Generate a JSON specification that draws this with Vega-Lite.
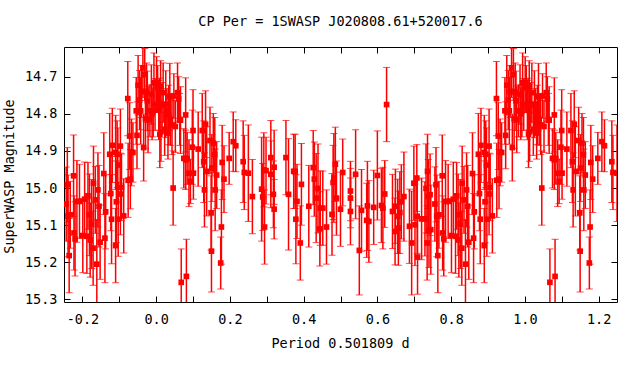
{
"$schema": "https://vega.github.io/schema/vega-lite/v6.json",
"width": 553, "height": 255,
"autosize": {"type": "none"},
"padding": {"left": 64, "top": 47, "right": 23, "bottom": 82},
"background": "white",
"config": {"view": {"stroke": "black", "strokeWidth": 1}, "font": "DejaVu Sans Mono"},
"title": {"text": "CP Per = 1SWASP J020808.61+520017.6", "font": "DejaVu Sans Mono", "fontSize": 13.5, "fontWeight": "normal", "color": "black", "anchor": "middle", "baseline": "alphabetic", "offset": 7},
"data": {"values": [
{"phase":0.001,"mag":14.716,"err":0.07},{"phase":0.004,"mag":14.730,"err":0.06},{"phase":0.007,"mag":14.790,"err":0.08},{"phase":0.009,"mag":14.774,"err":0.07},{"phase":0.010,"mag":14.855,"err":0.09},{"phase":0.012,"mag":14.727,"err":0.07},{"phase":0.013,"mag":14.848,"err":0.08},{"phase":0.016,"mag":14.776,"err":0.06},{"phase":0.019,"mag":14.743,"err":0.08},{"phase":0.023,"mag":14.842,"err":0.07},{"phase":0.026,"mag":14.774,"err":0.09},{"phase":0.029,"mag":14.792,"err":0.06},{"phase":0.032,"mag":14.852,"err":0.07},{"phase":0.034,"mag":14.803,"err":0.08},{"phase":0.037,"mag":14.754,"err":0.09},{"phase":0.039,"mag":14.815,"err":0.07},{"phase":0.043,"mag":14.830,"err":0.08},{"phase":0.046,"mag":15.000,"err":0.10},{"phase":0.048,"mag":14.752,"err":0.06},{"phase":0.052,"mag":14.834,"err":0.07},{"phase":0.058,"mag":14.743,"err":0.08},{"phase":0.061,"mag":14.760,"err":0.06},{"phase":0.064,"mag":14.815,"err":0.07},{"phase":0.066,"mag":14.817,"err":0.09},{"phase":0.068,"mag":15.254,"err":0.09},{"phase":0.075,"mag":14.920,"err":0.08},{"phase":0.080,"mag":14.803,"err":0.10},{"phase":0.080,"mag":14.924,"err":0.08},{"phase":0.082,"mag":15.238,"err":0.10},{"phase":0.084,"mag":14.920,"err":0.07},{"phase":0.089,"mag":14.960,"err":0.09},{"phase":0.093,"mag":14.982,"err":0.06},{"phase":0.098,"mag":14.890,"err":0.10},{"phase":0.100,"mag":14.845,"err":0.11},{"phase":0.101,"mag":14.960,"err":0.07},{"phase":0.114,"mag":14.895,"err":0.10},{"phase":0.125,"mag":14.845,"err":0.10},{"phase":0.129,"mag":14.929,"err":0.11},{"phase":0.131,"mag":15.005,"err":0.10},{"phase":0.134,"mag":14.828,"err":0.09},{"phase":0.137,"mag":14.955,"err":0.12},{"phase":0.146,"mag":14.872,"err":0.09},{"phase":0.149,"mag":15.067,"err":0.10},{"phase":0.150,"mag":15.170,"err":0.11},{"phase":0.151,"mag":14.946,"err":0.09},{"phase":0.155,"mag":14.879,"err":0.08},{"phase":0.159,"mag":14.910,"err":0.10},{"phase":0.160,"mag":15.005,"err":0.11},{"phase":0.164,"mag":14.965,"err":0.09},{"phase":0.175,"mag":15.202,"err":0.07},{"phase":0.177,"mag":15.105,"err":0.10},{"phase":0.179,"mag":14.931,"err":0.10},{"phase":0.184,"mag":14.976,"err":0.09},{"phase":0.198,"mag":14.920,"err":0.07},{"phase":0.209,"mag":14.875,"err":0.08},{"phase":0.216,"mag":14.886,"err":0.07},{"phase":0.236,"mag":14.929,"err":0.11},{"phase":0.239,"mag":14.958,"err":0.10},{"phase":0.250,"mag":14.960,"err":0.13},
{"phase":0.261,"mag":15.023,"err":0.10},{"phase":0.286,"mag":15.003,"err":0.14},{"phase":0.289,"mag":15.024,"err":0.09},{"phase":0.292,"mag":14.951,"err":0.10},{"phase":0.294,"mag":15.105,"err":0.10},{"phase":0.298,"mag":14.953,"err":0.09},{"phase":0.311,"mag":14.918,"err":0.10},{"phase":0.311,"mag":14.963,"err":0.09},{"phase":0.318,"mag":15.017,"err":0.09},{"phase":0.320,"mag":15.057,"err":0.08},{"phase":0.320,"mag":14.944,"err":0.10},{"phase":0.352,"mag":14.918,"err":0.10},{"phase":0.359,"mag":15.017,"err":0.15},{"phase":0.373,"mag":14.955,"err":0.10},{"phase":0.377,"mag":14.955,"err":0.10},{"phase":0.379,"mag":15.084,"err":0.12},{"phase":0.382,"mag":15.036,"err":0.10},{"phase":0.391,"mag":15.148,"err":0.10},{"phase":0.394,"mag":14.990,"err":0.11},{"phase":0.414,"mag":15.049,"err":0.11},{"phase":0.426,"mag":14.945,"err":0.10},{"phase":0.429,"mag":14.976,"err":0.10},{"phase":0.434,"mag":15.027,"err":0.12},{"phase":0.439,"mag":15.001,"err":0.12},{"phase":0.444,"mag":15.110,"err":0.10},{"phase":0.445,"mag":15.054,"err":0.10},{"phase":0.452,"mag":15.054,"err":0.10},{"phase":0.462,"mag":15.105,"err":0.10},{"phase":0.477,"mag":15.071,"err":0.11},{"phase":0.480,"mag":14.985,"err":0.10},{"phase":0.482,"mag":14.973,"err":0.12},{"phase":0.486,"mag":14.936,"err":0.10},{"phase":0.489,"mag":15.027,"err":0.10},{"phase":0.500,"mag":15.057,"err":0.10},{"phase":0.506,"mag":14.958,"err":0.09},{"phase":0.527,"mag":15.008,"err":0.08},{"phase":0.527,"mag":15.027,"err":0.08},{"phase":0.527,"mag":15.063,"err":0.09},{"phase":0.541,"mag":14.963,"err":0.12},{"phase":0.551,"mag":15.168,"err":0.12},{"phase":0.557,"mag":15.060,"err":0.11},{"phase":0.571,"mag":15.087,"err":0.10},{"phase":0.573,"mag":15.048,"err":0.12},{"phase":0.577,"mag":15.090,"err":0.11},{"phase":0.590,"mag":15.052,"err":0.10},{"phase":0.600,"mag":14.966,"err":0.12},{"phase":0.611,"mag":15.047,"err":0.10},{"phase":0.615,"mag":15.054,"err":0.11},{"phase":0.620,"mag":15.016,"err":0.09},{"phase":0.625,"mag":14.775,"err":0.10},{"phase":0.641,"mag":15.063,"err":0.10},{"phase":0.648,"mag":15.117,"err":0.09},{"phase":0.649,"mag":15.049,"err":0.10},{"phase":0.655,"mag":15.076,"err":0.10},{"phase":0.657,"mag":15.108,"err":0.10},{"phase":0.661,"mag":15.066,"err":0.11},{"phase":0.665,"mag":15.037,"err":0.10},{"phase":0.672,"mag":15.023,"err":0.12},{"phase":0.687,"mag":15.103,"err":0.10},{"phase":0.693,"mag":15.148,"err":0.14},{"phase":0.699,"mag":14.987,"err":0.10},{"phase":0.702,"mag":15.099,"err":0.11},{"phase":0.707,"mag":14.973,"err":0.09},{"phase":0.708,"mag":15.076,"err":0.10},{"phase":0.709,"mag":15.186,"err":0.10},{"phase":0.720,"mag":15.083,"err":0.11},{"phase":0.729,"mag":15.083,"err":0.10},{"phase":0.732,"mag":15.001,"err":0.12},{"phase":0.735,"mag":15.148,"err":0.10},{"phase":0.736,"mag":14.955,"err":0.10},{"phase":0.738,"mag":15.023,"err":0.10},{"phase":0.740,"mag":15.114,"err":0.10},{"phase":0.743,"mag":15.018,"err":0.11},{"phase":0.745,"mag":15.112,"err":0.12},
{"phase":0.756,"mag":15.043,"err":0.10},{"phase":0.759,"mag":14.991,"err":0.10},{"phase":0.761,"mag":15.075,"err":0.11},{"phase":0.764,"mag":15.182,"err":0.10},{"phase":0.767,"mag":15.072,"err":0.09},{"phase":0.776,"mag":14.967,"err":0.11},{"phase":0.777,"mag":15.121,"err":0.10},{"phase":0.780,"mag":15.137,"err":0.10},{"phase":0.785,"mag":15.036,"err":0.11},{"phase":0.792,"mag":15.036,"err":0.10},{"phase":0.801,"mag":15.128,"err":0.10},{"phase":0.806,"mag":15.030,"err":0.10},{"phase":0.812,"mag":15.130,"err":0.10},{"phase":0.815,"mag":15.021,"err":0.09},{"phase":0.819,"mag":15.072,"err":0.11},{"phase":0.821,"mag":15.140,"err":0.10},{"phase":0.825,"mag":15.097,"err":0.12},{"phase":0.829,"mag":15.162,"err":0.10},{"phase":0.830,"mag":14.987,"err":0.10},{"phase":0.835,"mag":15.032,"err":0.09},{"phase":0.839,"mag":15.205,"err":0.12},{"phase":0.842,"mag":15.005,"err":0.10},{"phase":0.845,"mag":15.049,"err":0.11},{"phase":0.848,"mag":15.146,"err":0.10},{"phase":0.858,"mag":14.961,"err":0.11},{"phase":0.861,"mag":15.135,"err":0.12},{"phase":0.863,"mag":15.064,"err":0.10},{"phase":0.874,"mag":14.909,"err":0.11},{"phase":0.877,"mag":15.015,"err":0.10},{"phase":0.879,"mag":15.084,"err":0.12},{"phase":0.881,"mag":14.885,"err":0.10},{"phase":0.890,"mag":15.155,"err":0.10},{"phase":0.890,"mag":14.904,"err":0.10},{"phase":0.892,"mag":15.037,"err":0.11},{"phase":0.894,"mag":14.909,"err":0.09},{"phase":0.896,"mag":14.938,"err":0.10},{"phase":0.897,"mag":15.084,"err":0.10},{"phase":0.903,"mag":14.887,"err":0.10},{"phase":0.903,"mag":15.016,"err":0.11},{"phase":0.906,"mag":14.998,"err":0.09},{"phase":0.912,"mag":15.075,"err":0.10},{"phase":0.923,"mag":14.759,"err":0.10},{"phase":0.924,"mag":14.979,"err":0.10},{"phase":0.928,"mag":14.860,"err":0.09},{"phase":0.930,"mag":14.976,"err":0.08},{"phase":0.933,"mag":14.904,"err":0.09},{"phase":0.937,"mag":14.904,"err":0.08},{"phase":0.946,"mag":14.792,"err":0.09},{"phase":0.948,"mag":14.858,"err":0.09},{"phase":0.951,"mag":14.723,"err":0.08},{"phase":0.955,"mag":14.763,"err":0.08},{"phase":0.958,"mag":14.792,"err":0.09},{"phase":0.960,"mag":14.740,"err":0.07},{"phase":0.964,"mag":14.676,"err":0.08},{"phase":0.966,"mag":14.891,"err":0.09},{"phase":0.969,"mag":14.694,"err":0.07},{"phase":0.971,"mag":14.813,"err":0.08},{"phase":0.974,"mag":14.743,"err":0.08},{"phase":0.976,"mag":14.765,"err":0.08},{"phase":0.978,"mag":14.815,"err":0.09},{"phase":0.983,"mag":14.792,"err":0.07},{"phase":0.987,"mag":14.748,"err":0.08},{"phase":0.989,"mag":14.800,"err":0.07},{"phase":0.992,"mag":14.792,"err":0.07},{"phase":0.994,"mag":14.716,"err":0.08},{"phase":0.997,"mag":14.775,"err":0.07},
{"phase":-0.244,"mag":15.043,"err":0.10},{"phase":-0.241,"mag":14.991,"err":0.10},{"phase":-0.239,"mag":15.075,"err":0.11},{"phase":-0.236,"mag":15.182,"err":0.10},{"phase":-0.233,"mag":15.072,"err":0.09},{"phase":-0.224,"mag":14.967,"err":0.11},{"phase":-0.223,"mag":15.121,"err":0.10},{"phase":-0.220,"mag":15.137,"err":0.10},{"phase":-0.215,"mag":15.036,"err":0.11},{"phase":-0.208,"mag":15.036,"err":0.10},{"phase":-0.199,"mag":15.128,"err":0.10},{"phase":-0.194,"mag":15.030,"err":0.10},{"phase":-0.188,"mag":15.130,"err":0.10},{"phase":-0.185,"mag":15.021,"err":0.09},{"phase":-0.181,"mag":15.072,"err":0.11},{"phase":-0.179,"mag":15.140,"err":0.10},{"phase":-0.175,"mag":15.097,"err":0.12},{"phase":-0.171,"mag":15.162,"err":0.10},{"phase":-0.170,"mag":14.987,"err":0.10},{"phase":-0.165,"mag":15.032,"err":0.09},{"phase":-0.161,"mag":15.205,"err":0.12},{"phase":-0.158,"mag":15.005,"err":0.10},{"phase":-0.155,"mag":15.049,"err":0.11},{"phase":-0.152,"mag":15.146,"err":0.10},{"phase":-0.142,"mag":14.961,"err":0.11},{"phase":-0.139,"mag":15.135,"err":0.12},{"phase":-0.137,"mag":15.064,"err":0.10},{"phase":-0.126,"mag":14.909,"err":0.11},{"phase":-0.123,"mag":15.015,"err":0.10},{"phase":-0.121,"mag":15.084,"err":0.12},{"phase":-0.119,"mag":14.885,"err":0.10},{"phase":-0.110,"mag":15.155,"err":0.10},{"phase":-0.110,"mag":14.904,"err":0.10},{"phase":-0.108,"mag":15.037,"err":0.11},{"phase":-0.106,"mag":14.909,"err":0.09},{"phase":-0.104,"mag":14.938,"err":0.10},{"phase":-0.103,"mag":15.084,"err":0.10},{"phase":-0.097,"mag":14.887,"err":0.10},{"phase":-0.097,"mag":15.016,"err":0.11},{"phase":-0.094,"mag":14.998,"err":0.09},{"phase":-0.088,"mag":15.075,"err":0.10},{"phase":-0.077,"mag":14.759,"err":0.10},{"phase":-0.076,"mag":14.979,"err":0.10},{"phase":-0.072,"mag":14.860,"err":0.09},{"phase":-0.070,"mag":14.976,"err":0.08},{"phase":-0.067,"mag":14.904,"err":0.09},{"phase":-0.063,"mag":14.904,"err":0.08},{"phase":-0.054,"mag":14.792,"err":0.09},{"phase":-0.052,"mag":14.858,"err":0.09},{"phase":-0.049,"mag":14.723,"err":0.08},{"phase":-0.045,"mag":14.763,"err":0.08},{"phase":-0.042,"mag":14.792,"err":0.09},{"phase":-0.040,"mag":14.740,"err":0.07},{"phase":-0.036,"mag":14.676,"err":0.08},{"phase":-0.034,"mag":14.891,"err":0.09},{"phase":-0.031,"mag":14.694,"err":0.07},{"phase":-0.029,"mag":14.813,"err":0.08},{"phase":-0.026,"mag":14.743,"err":0.08},{"phase":-0.024,"mag":14.765,"err":0.08},{"phase":-0.022,"mag":14.815,"err":0.09},{"phase":-0.017,"mag":14.792,"err":0.07},{"phase":-0.013,"mag":14.748,"err":0.08},{"phase":-0.011,"mag":14.800,"err":0.07},{"phase":-0.008,"mag":14.792,"err":0.07},{"phase":-0.006,"mag":14.716,"err":0.08},{"phase":-0.003,"mag":14.775,"err":0.07},
{"phase":1.001,"mag":14.716,"err":0.07},{"phase":1.004,"mag":14.730,"err":0.06},{"phase":1.007,"mag":14.790,"err":0.08},{"phase":1.009,"mag":14.774,"err":0.07},{"phase":1.010,"mag":14.855,"err":0.09},{"phase":1.012,"mag":14.727,"err":0.07},{"phase":1.013,"mag":14.848,"err":0.08},{"phase":1.016,"mag":14.776,"err":0.06},{"phase":1.019,"mag":14.743,"err":0.08},{"phase":1.023,"mag":14.842,"err":0.07},{"phase":1.026,"mag":14.774,"err":0.09},{"phase":1.029,"mag":14.792,"err":0.06},{"phase":1.032,"mag":14.852,"err":0.07},{"phase":1.034,"mag":14.803,"err":0.08},{"phase":1.037,"mag":14.754,"err":0.09},{"phase":1.039,"mag":14.815,"err":0.07},{"phase":1.043,"mag":14.830,"err":0.08},{"phase":1.046,"mag":15.000,"err":0.10},{"phase":1.048,"mag":14.752,"err":0.06},{"phase":1.052,"mag":14.834,"err":0.07},{"phase":1.058,"mag":14.743,"err":0.08},{"phase":1.061,"mag":14.760,"err":0.06},{"phase":1.064,"mag":14.815,"err":0.07},{"phase":1.066,"mag":14.817,"err":0.09},{"phase":1.068,"mag":15.254,"err":0.09},{"phase":1.075,"mag":14.920,"err":0.08},{"phase":1.080,"mag":14.803,"err":0.10},{"phase":1.080,"mag":14.924,"err":0.08},{"phase":1.082,"mag":15.238,"err":0.10},{"phase":1.084,"mag":14.920,"err":0.07},{"phase":1.089,"mag":14.960,"err":0.09},{"phase":1.093,"mag":14.982,"err":0.06},{"phase":1.098,"mag":14.890,"err":0.10},{"phase":1.100,"mag":14.845,"err":0.11},{"phase":1.101,"mag":14.960,"err":0.07},{"phase":1.114,"mag":14.895,"err":0.10},{"phase":1.125,"mag":14.845,"err":0.10},{"phase":1.129,"mag":14.929,"err":0.11},{"phase":1.131,"mag":15.005,"err":0.10},{"phase":1.134,"mag":14.828,"err":0.09},{"phase":1.137,"mag":14.955,"err":0.12},{"phase":1.146,"mag":14.872,"err":0.09},{"phase":1.149,"mag":15.067,"err":0.10},{"phase":1.150,"mag":15.170,"err":0.11},{"phase":1.151,"mag":14.946,"err":0.09},{"phase":1.155,"mag":14.879,"err":0.08},{"phase":1.159,"mag":14.910,"err":0.10},{"phase":1.160,"mag":15.005,"err":0.11},{"phase":1.164,"mag":14.965,"err":0.09},{"phase":1.175,"mag":15.202,"err":0.07},{"phase":1.177,"mag":15.105,"err":0.10},{"phase":1.179,"mag":14.931,"err":0.10},{"phase":1.184,"mag":14.976,"err":0.09},{"phase":1.198,"mag":14.920,"err":0.07},{"phase":1.209,"mag":14.875,"err":0.08},{"phase":1.216,"mag":14.886,"err":0.07},{"phase":1.236,"mag":14.929,"err":0.11},{"phase":1.239,"mag":14.958,"err":0.10},{"phase":1.250,"mag":14.960,"err":0.13}
]},
"layer": [
{"mark": {"type": "errorbar", "ticks": {"size": 7, "color": "#ff0000", "strokeWidth": 1.5, "clip": true}, "rule": {"color": "#ff0000", "strokeWidth": 1.5, "clip": true}},
 "encoding": {
  "x": {"field": "phase", "type": "quantitative", "scale": {"domain": [-0.25, 1.25], "nice": false, "zero": false},
   "axis": {"orient": "bottom", "title": "Period 0.501809 d", "values": [-0.2,-0.1,0,0.1,0.2,0.3,0.4,0.5,0.6,0.7,0.8,0.9,1.0,1.1,1.2],
    "labelExpr": "abs(round(datum.value*10)) % 2 == 0 ? (datum.value < -0.01 ? '-' : '') + format(abs(datum.value), '.1f') : ''",
    "tickSize": -6, "tickColor": "black", "labelPadding": 27, "labelBaseline": "alphabetic", "labelFont": "DejaVu Sans Mono", "labelFontSize": 13.5, "labelColor": "black",
    "domain": false, "grid": false, "labelFlush": false, "labelOverlap": false,
    "titleFont": "DejaVu Sans Mono", "titleFontSize": 13.5, "titleFontWeight": "normal", "titleColor": "black", "titleX": 276, "titleY": 45, "titleBaseline": "alphabetic", "titleAnchor": "middle"}},
  "y": {"field": "mag", "type": "quantitative", "scale": {"domain": [14.62, 15.307], "reverse": true, "nice": false, "zero": false},
   "axis": {"orient": "left", "title": "SuperWASP Magnitude", "values": [14.7,14.8,14.9,15.0,15.1,15.2,15.3], "format": ".1f",
    "tickSize": -6, "tickColor": "black", "labelPadding": 13, "labelFont": "DejaVu Sans Mono", "labelFontSize": 13.5, "labelColor": "black",
    "domain": false, "grid": false, "labelFlush": false, "labelOverlap": false,
    "titleFont": "DejaVu Sans Mono", "titleFontSize": 13.5, "titleFontWeight": "normal", "titleColor": "black", "titleX": -51, "titleY": 129, "titleBaseline": "alphabetic", "titleAnchor": "middle"}},
  "yError": {"field": "err"}
 }},
{"mark": {"type": "square", "size": 32, "color": "#ff0000", "opacity": 1, "clip": true},
 "encoding": {
  "x": {"field": "phase", "type": "quantitative", "axis": {"orient": "top", "title": null, "labels": false, "values": [-0.2,-0.1,0,0.1,0.2,0.3,0.4,0.5,0.6,0.7,0.8,0.9,1.0,1.1,1.2], "tickSize": -6, "tickColor": "black", "domain": false, "grid": false}},
  "y": {"field": "mag", "type": "quantitative", "axis": {"orient": "right", "title": null, "labels": false, "values": [14.7,14.8,14.9,15.0,15.1,15.2,15.3], "tickSize": -6, "tickColor": "black", "domain": false, "grid": false}}
 }}
],
"resolve": {"axis": {"x": "independent", "y": "independent"}}
}
